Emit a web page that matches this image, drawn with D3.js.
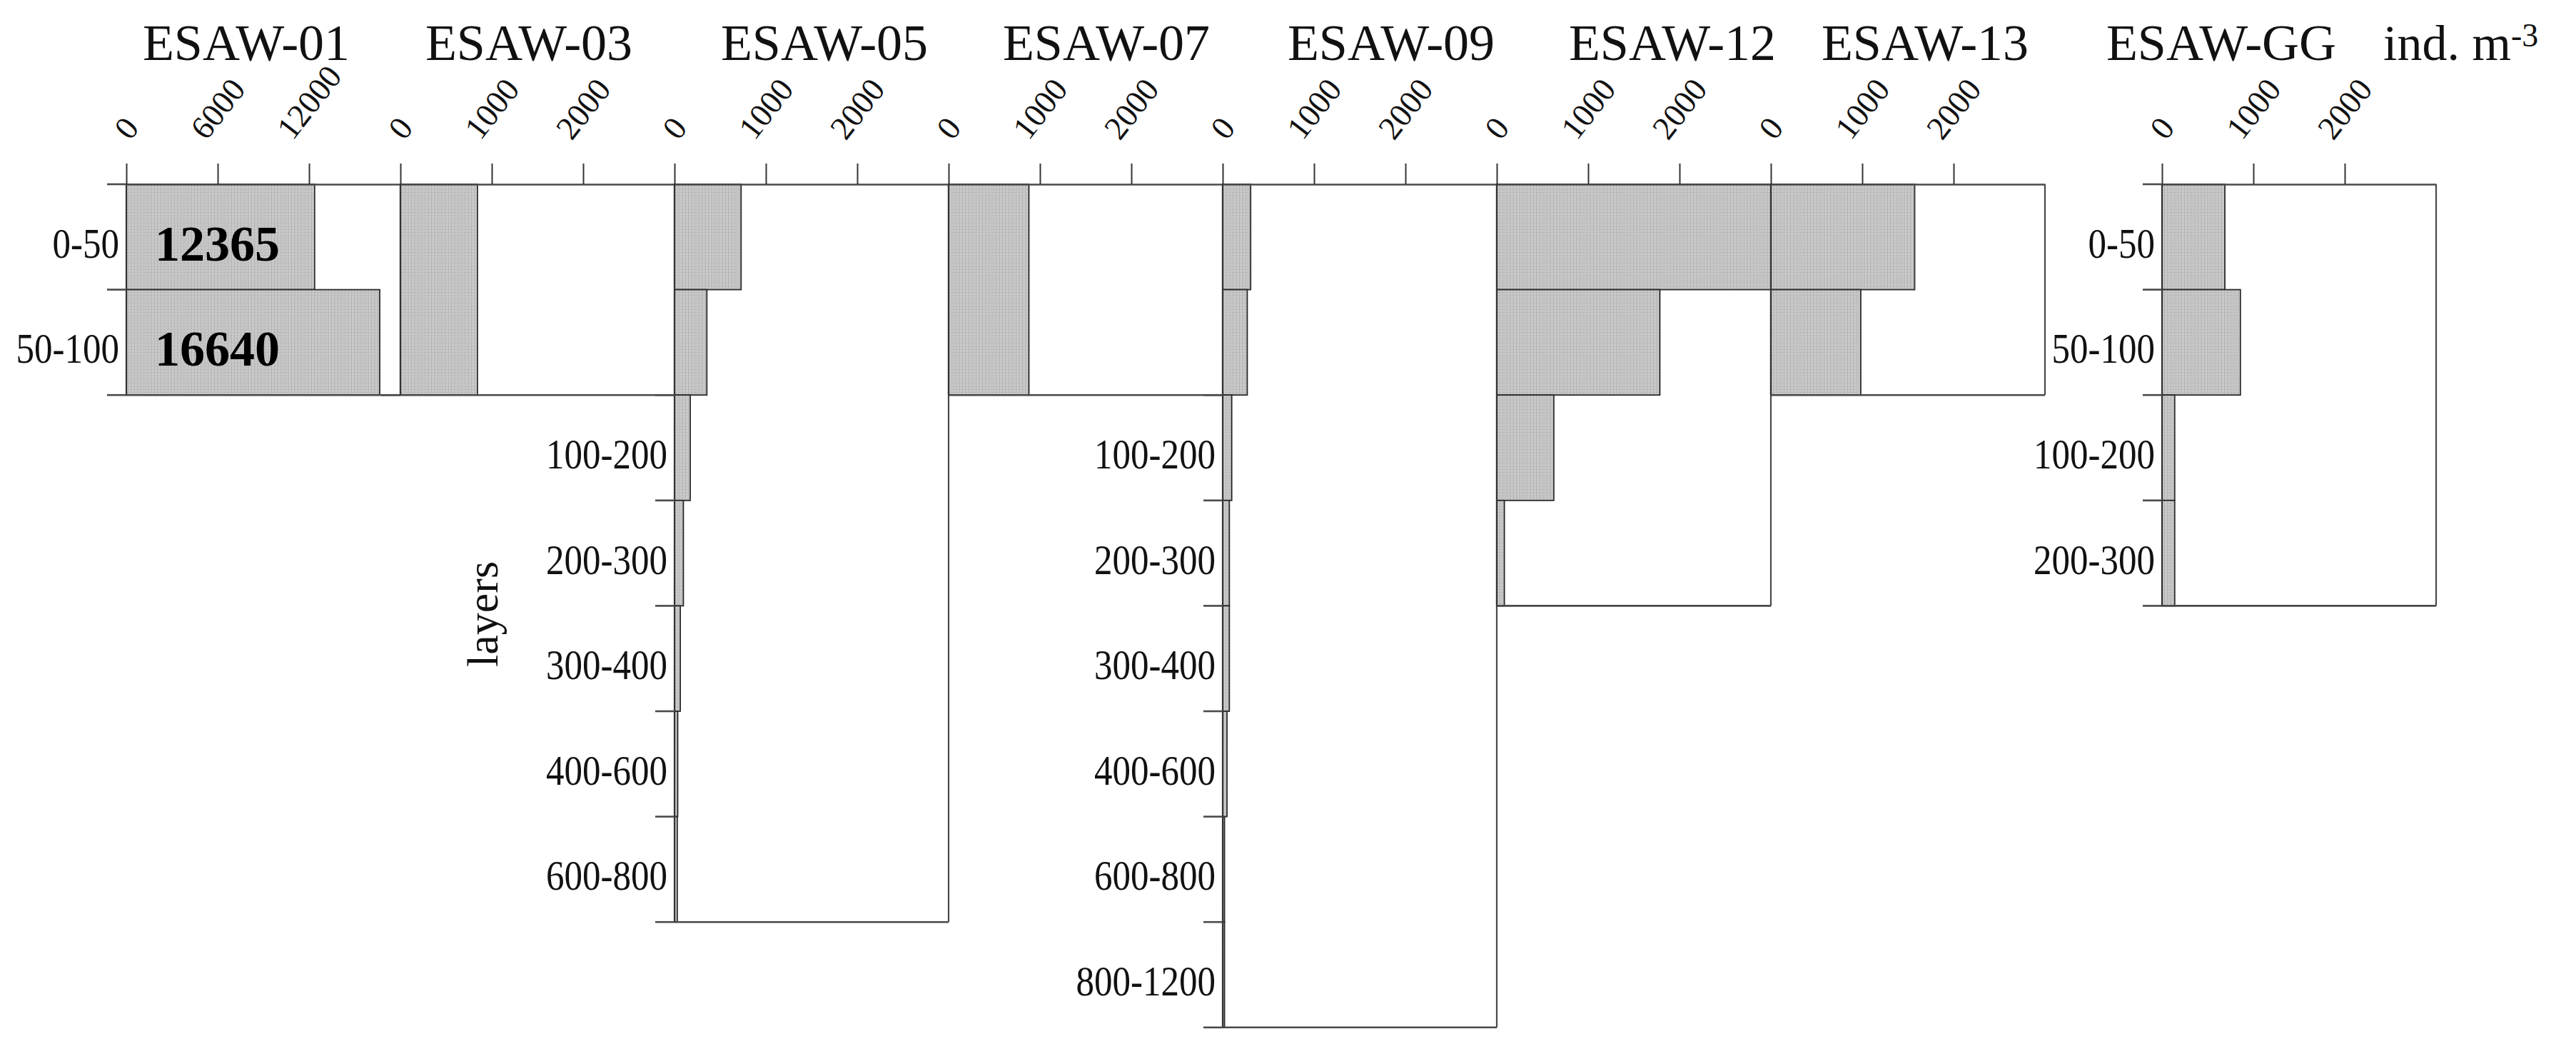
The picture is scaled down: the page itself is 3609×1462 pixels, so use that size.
<!DOCTYPE html>
<html><head><meta charset="utf-8">
<script src="https://cdn.jsdelivr.net/npm/d3@7"></script>
<style>
html,body{margin:0;padding:0;background:#fff;}
svg{display:block;font-family:"Liberation Serif","Times New Roman",serif;}
</style>
</head><body>
<svg id="chart" width="3609" height="1462"></svg>
<script>
// ---------------- DATA ----------------
const layers = ["0-50","50-100","100-200","200-300","300-400","400-600","600-800","800-1200"];
const stations = ["ESAW-01","ESAW-03","ESAW-05","ESAW-07","ESAW-09","ESAW-12","ESAW-13","ESAW-GG"];
const esaw01 = [12365, 16640];
const esaw03 = [843, 843];
const esaw05 = [729, 354, 172, 97, 63, 35, 30];
const esaw07 = [879, 879];
const esaw09 = [306, 269, 99, 73, 73, 47, 20, 20];
const esaw12 = [3000, 1785, 624, 83];
const esaw13 = [1574, 984];
const esawGG = [688, 858, 139, 139];
const seriesValues = [esaw01, esaw03, esaw05, esaw07, esaw09, esaw12, esaw13, esawGG];
const axisMax = [18000, 3000, 3000, 3000, 3000, 3000, 3000, 3000];
const ticks01 = [0, 6000, 12000];
const ticksStd = [0, 1000, 2000];
const stationTicks = [ticks01, ticksStd, ticksStd, ticksStd, ticksStd, ticksStd, ticksStd, ticksStd];
const sampledAs0to100 = ["ESAW-03", "ESAW-07"];   // single 0-100 m sample
const valueLabelled = ["ESAW-01"];                 // values printed inside bars
const unitText = "ind. m";
const unitSup = "-3";
const yAxisTitle = "layers";

// ---------------- LAYOUT ----------------
const PANEL_W = 384, X0 = 177, GAP_GG = 164, TOP = 258, ROW_H = 147.6;
const TICK_LEN = 29, LEFT_TICK = 27;
const TITLE_CX = [345, 741, 1155, 1550, 1949, 2343, 2697, 3112];
const LINE = "#4a4a4a";

const svg = d3.select("#chart");
const defs = svg.append("defs");
const pat = defs.append("pattern").attr("id","stipple")
  .attr("patternUnits","userSpaceOnUse").attr("width",4).attr("height",4);
pat.append("rect").attr("width",4).attr("height",4).attr("fill","#d8d8d8");
pat.append("rect").attr("x",0).attr("y",0).attr("width",1).attr("height",4).attr("fill","#a8a8a8");
pat.append("rect").attr("x",2).attr("y",1).attr("width",1).attr("height",1).attr("fill","#7c7c7c");
pat.append("rect").attr("x",2).attr("y",3).attr("width",1).attr("height",1).attr("fill","#9a9a9a");

const y = d3.scaleBand().domain(layers).range([TOP, TOP + layers.length*ROW_H]).padding(0);

function zeroX(i){ return i < 7 ? X0 + i*PANEL_W : X0 + 7*PANEL_W + GAP_GG; }

stations.forEach((st, i) => {
  const vals = seriesValues[i];
  const n = vals.length;
  const zx = zeroX(i);
  const x = d3.scaleLinear().domain([0, axisMax[i]]).range([zx, zx + PANEL_W]);
  const bottom = y(layers[n-1]) + y.bandwidth();
  const adjacent = i > 0 && i < 7;
  const hidden = adjacent ? seriesValues[i-1].length : 0;  // rows covered by left neighbour
  const g = svg.append("g").attr("class","panel");

  // bars
  let segs;
  if (sampledAs0to100.includes(st)) {
    segs = [{v: vals[0], y0: y(layers[0]), y1: y(layers[1]) + y.bandwidth()}];
  } else {
    segs = vals.map((v,j) => ({v, y0: y(layers[j]), y1: y(layers[j]) + y.bandwidth()}));
  }
  g.selectAll("rect.bar").data(segs).join("rect").attr("class","bar")
    .attr("x", x(0)).attr("y", d => d.y0)
    .attr("width", d => x(d.v) - x(0)).attr("height", d => d.y1 - d.y0)
    .attr("fill","url(#stipple)").attr("stroke","#2a2a2a").attr("stroke-width",1.8);

  // box: right and bottom edges
  g.append("line").attr("x1", x.range()[1]).attr("x2", x.range()[1]).attr("y1", TOP).attr("y2", bottom)
    .attr("stroke", LINE).attr("stroke-width", 2.2);
  g.append("line").attr("x1", zx).attr("x2", x.range()[1]).attr("y1", bottom).attr("y2", bottom)
    .attr("stroke", LINE).attr("stroke-width", 2.6);

  // top axis
  const ax = d3.axisTop(x).tickValues(stationTicks[i]).tickSize(TICK_LEN).tickSizeOuter(0).tickFormat("");
  const axg = g.append("g").attr("transform", `translate(0,${TOP})`).call(ax);
  axg.select(".domain").attr("stroke", LINE).attr("stroke-width", 2.6);
  axg.selectAll(".tick line").attr("stroke", "#333").attr("stroke-width", 2);

  // rotated tick labels
  const fs = 46, ang = 52*Math.PI/180;
  stationTicks[i].forEach(t => {
    const lab = g.append("text").attr("font-size", fs).attr("text-anchor","middle")
      .attr("dy","0.34em").attr("fill","#111").text(String(t));
    const L = lab.node().getComputedTextLength();
    const h = L*Math.sin(ang) + 0.68*fs*Math.cos(ang);
    lab.attr("transform", `translate(${x(t)},${198 - h/2}) rotate(-52)`);
  });

  // left zero axis
  g.append("line").attr("x1", zx).attr("x2", zx).attr("y1", TOP).attr("y2", bottom)
    .attr("stroke", "#333").attr("stroke-width", 2.2);
  // left ticks at layer boundaries (only where not covered by the neighbour's frame)
  const bounds = d3.range(n+1).filter(k => k >= hidden);
  g.selectAll("line.lt").data(bounds).join("line").attr("class","lt")
    .attr("x1", zx - LEFT_TICK).attr("x2", zx)
    .attr("y1", k => TOP + k*y.bandwidth()).attr("y2", k => TOP + k*y.bandwidth())
    .attr("stroke", LINE).attr("stroke-width", 2.6);

  // layer labels
  d3.range(n).filter(j => j >= hidden).forEach(j => {
    g.append("text").attr("font-size", 60).attr("text-anchor","end").attr("fill","#111")
      .attr("transform", `translate(${zx - 10},${y(layers[j]) + y.bandwidth()/2 + 29}) scale(0.85,1)`)
      .text(layers[j]);
  });

  // values in bars
  if (valueLabelled.includes(st)) {
    vals.forEach((v,j) => {
      g.append("text").attr("font-size", 70).attr("font-weight","bold").attr("fill","#000")
        .attr("x", zx + 40).attr("y", y(layers[j]) + y.bandwidth()/2 + 33).text(String(v));
    });
  }

  // title
  g.append("text").attr("font-size", 72).attr("text-anchor","middle").attr("fill","#111")
    .attr("x", TITLE_CX[i]).attr("y", 84).text(st);
});

// unit
const unit = svg.append("text").attr("font-size", 70).attr("fill","#111").attr("x", 3339).attr("y", 84);
unit.append("tspan").text(unitText);
unit.append("tspan").attr("font-size", 46).attr("dy", -19).text(unitSup);

// y axis title
svg.append("text").attr("font-size", 62).attr("text-anchor","middle").attr("fill","#111")
  .attr("transform","translate(697,860) rotate(-90)").text(yAxisTitle);
</script>
</body></html>
